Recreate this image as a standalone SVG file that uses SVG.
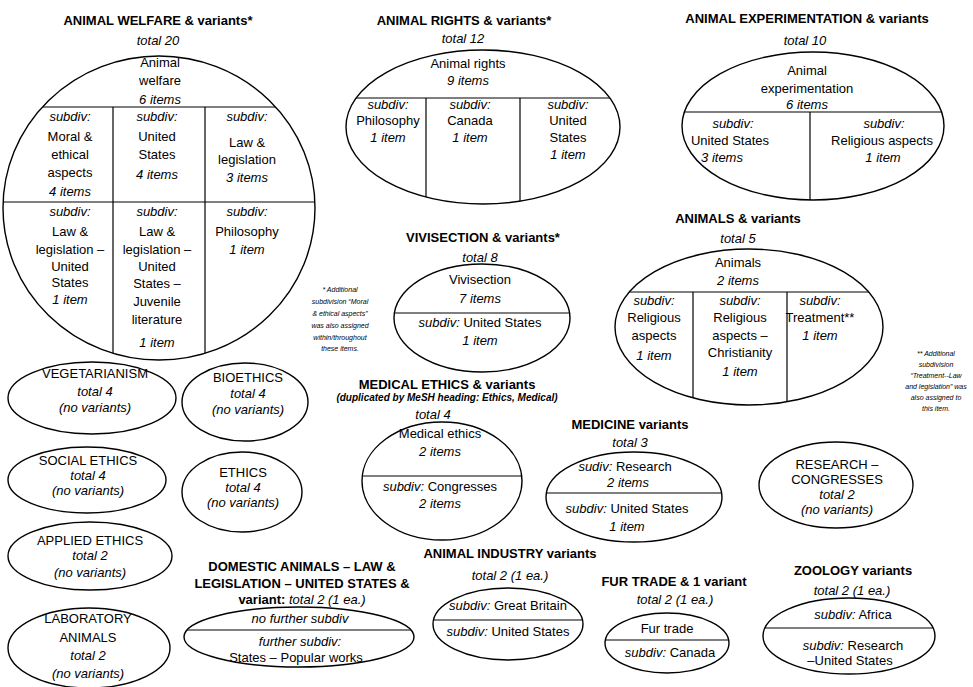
<svg xmlns="http://www.w3.org/2000/svg" width="973" height="687" viewBox="0 0 973 687">
<style>
text{font-family:"Liberation Sans",Arial,Helvetica,sans-serif;font-size:13px;text-anchor:middle;fill:#000}
.b{font-weight:bold}
.i{font-style:italic}
.fn{font-size:7px;font-style:italic}
.sub{font-size:10px;font-weight:bold;font-style:italic}
.o{fill:none;stroke:#000;stroke-width:1.4}
.d{stroke:#000;stroke-width:1.2}
</style>
<defs>
<clipPath id="cW"><ellipse cx="159" cy="208" rx="156" ry="152"/></clipPath>
<clipPath id="cR"><ellipse cx="483" cy="127" rx="137" ry="77"/></clipPath>
<clipPath id="cE"><ellipse cx="813" cy="126" rx="131" ry="74"/></clipPath>
<clipPath id="cV"><ellipse cx="482" cy="318" rx="88" ry="54"/></clipPath>
<clipPath id="cA"><ellipse cx="749" cy="327" rx="134" ry="78"/></clipPath>
<clipPath id="cM"><ellipse cx="442" cy="481" rx="80" ry="59"/></clipPath>
<clipPath id="cMd"><ellipse cx="634" cy="497" rx="88" ry="45"/></clipPath>
<clipPath id="cD"><ellipse cx="299" cy="637" rx="115" ry="30"/></clipPath>
<clipPath id="cI"><ellipse cx="508" cy="624" rx="75" ry="36"/></clipPath>
<clipPath id="cF"><ellipse cx="667" cy="643" rx="62" ry="30"/></clipPath>
<clipPath id="cZ"><ellipse cx="849" cy="636" rx="86" ry="38"/></clipPath>
</defs>
<rect width="973" height="687" fill="#fff"/>
<g id="connectors"/>

<g id="animal-welfare">
<text x="158" y="25" class="b">ANIMAL WELFARE &amp; variants*</text>
<text x="158" y="45" class="i">total 20</text>
<ellipse class="o" cx="159" cy="208" rx="156" ry="152"/>
<g clip-path="url(#cW)">
<line class="d" x1="0" y1="107" x2="330" y2="107"/>
<line class="d" x1="0" y1="202" x2="330" y2="202"/>
<line class="d" x1="113" y1="107" x2="113" y2="400"/>
<line class="d" x1="205" y1="107" x2="205" y2="400"/>
</g>
<text x="160" y="67">Animal</text>
<text x="160" y="85">welfare</text>
<text x="160" y="104" class="i">6 items</text>
<text x="70" y="121" class="i">subdiv:</text>
<text x="70" y="141">Moral &amp;</text>
<text x="70" y="159">ethical</text>
<text x="70" y="177">aspects</text>
<text x="70" y="196" class="i">4 items</text>
<text x="157" y="121" class="i">subdiv:</text>
<text x="157" y="141">United</text>
<text x="157" y="159">States</text>
<text x="157" y="179" class="i">4 items</text>
<text x="247" y="121" class="i">subdiv:</text>
<text x="247" y="147">Law &amp;</text>
<text x="247" y="164">legislation</text>
<text x="247" y="182" class="i">3 items</text>
<text x="70" y="216" class="i">subdiv:</text>
<text x="70" y="236">Law &amp;</text>
<text x="70" y="254">legislation –</text>
<text x="70" y="271">United</text>
<text x="70" y="287">States</text>
<text x="70" y="304" class="i">1 item</text>
<text x="157" y="216" class="i">subdiv:</text>
<text x="157" y="236">Law &amp;</text>
<text x="157" y="254">legislation –</text>
<text x="157" y="271">United</text>
<text x="157" y="288">States –</text>
<text x="157" y="306">Juvenile</text>
<text x="157" y="324">literature</text>
<text x="157" y="347" class="i">1 item</text>
<text x="247" y="216" class="i">subdiv:</text>
<text x="247" y="236">Philosophy</text>
<text x="247" y="254" class="i">1 item</text>
</g>

<g id="footnote-1">
<text x="340" y="292" class="fn">* Additional</text>
<text x="340" y="304" class="fn">subdivision “Moral</text>
<text x="340" y="316" class="fn">&amp; ethical aspects”</text>
<text x="340" y="328" class="fn">was also assigned</text>
<text x="340" y="340" class="fn">within/throughout</text>
<text x="340" y="351" class="fn">these items.</text>
</g>

<g id="animal-rights">
<text x="464" y="25" class="b">ANIMAL RIGHTS &amp; variants*</text>
<text x="463" y="43" class="i">total 12</text>
<ellipse class="o" cx="483" cy="127" rx="137" ry="77"/>
<g clip-path="url(#cR)">
<line class="d" x1="340" y1="98" x2="630" y2="98"/>
<line class="d" x1="426" y1="98" x2="426" y2="210"/>
<line class="d" x1="520" y1="98" x2="520" y2="210"/>
</g>
<text x="468" y="68">Animal rights</text>
<text x="468" y="85" class="i">9 items</text>
<text x="388" y="109" class="i">subdiv:</text>
<text x="388" y="125">Philosophy</text>
<text x="388" y="142" class="i">1 item</text>
<text x="470" y="109" class="i">subdiv:</text>
<text x="470" y="125">Canada</text>
<text x="470" y="142" class="i">1 item</text>
<text x="568" y="109" class="i">subdiv:</text>
<text x="568" y="125">United</text>
<text x="568" y="142">States</text>
<text x="568" y="159" class="i">1 item</text>
</g>

<g id="animal-experimentation">
<text x="807" y="23" class="b">ANIMAL EXPERIMENTATION &amp; variants</text>
<text x="805" y="45" class="i">total 10</text>
<ellipse class="o" cx="813" cy="126" rx="131" ry="74"/>
<g clip-path="url(#cE)">
<line class="d" x1="675" y1="112" x2="950" y2="112"/>
<line class="d" x1="810" y1="112" x2="810" y2="210"/>
</g>
<text x="807" y="75">Animal</text>
<text x="807" y="93">experimentation</text>
<text x="807" y="109" class="i">6 items</text>
<text x="733" y="128" class="i">subdiv:</text>
<text x="730" y="145">United States</text>
<text x="722" y="162" class="i">3 items</text>
<text x="884" y="128" class="i">subdiv:</text>
<text x="882" y="145">Religious aspects</text>
<text x="883" y="162" class="i">1 item</text>
</g>

<g id="vivisection">
<text x="483" y="242" class="b">VIVISECTION &amp; variants*</text>
<text x="480" y="262" class="i">total 8</text>
<ellipse class="o" cx="482" cy="318" rx="88" ry="54"/>
<g clip-path="url(#cV)">
<line class="d" x1="390" y1="313" x2="575" y2="313"/>
</g>
<text x="480" y="284">Vivisection</text>
<text x="480" y="303" class="i">7 items</text>
<text x="480" y="327"><tspan class="i">subdiv:</tspan> United States</text>
<text x="480" y="345" class="i">1 item</text>
</g>

<g id="animals">
<text x="738" y="223" class="b">ANIMALS &amp; variants</text>
<text x="738" y="243" class="i">total 5</text>
<ellipse class="o" cx="749" cy="327" rx="134" ry="78"/>
<g clip-path="url(#cA)">
<line class="d" x1="610" y1="292" x2="890" y2="292"/>
<line class="d" x1="693" y1="292" x2="693" y2="410"/>
<line class="d" x1="787" y1="292" x2="787" y2="410"/>
</g>
<text x="738" y="267">Animals</text>
<text x="738" y="285" class="i">2 items</text>
<text x="654" y="305" class="i">subdiv:</text>
<text x="654" y="322">Religious</text>
<text x="654" y="340">aspects</text>
<text x="654" y="360" class="i">1 item</text>
<text x="740" y="305" class="i">subdiv:</text>
<text x="740" y="322">Religious</text>
<text x="740" y="340">aspects –</text>
<text x="740" y="357">Christianity</text>
<text x="740" y="376" class="i">1 item</text>
<text x="820" y="305" class="i">subdiv:</text>
<text x="820" y="322">Treatment**</text>
<text x="820" y="340" class="i">1 item</text>
</g>

<g id="footnote-2">
<text x="936" y="356" class="fn">** Additional</text>
<text x="936" y="367" class="fn">subdivision</text>
<text x="936" y="378" class="fn">“Treatment--Law</text>
<text x="936" y="389" class="fn">and legislation” was</text>
<text x="936" y="400" class="fn">also assigned to</text>
<text x="936" y="411" class="fn">this item.</text>
</g>

<g id="vegetarianism">
<ellipse class="o" cx="92" cy="398" rx="84" ry="36"/>
<text x="95" y="378">VEGETARIANISM</text>
<text x="95" y="396" class="i">total 4</text>
<text x="95" y="412" class="i">(no variants)</text>
</g>

<g id="bioethics">
<ellipse class="o" cx="245" cy="402" rx="63" ry="39"/>
<text x="248" y="382">BIOETHICS</text>
<text x="248" y="398" class="i">total 4</text>
<text x="248" y="414" class="i">(no variants)</text>
</g>

<g id="social-ethics">
<ellipse class="o" cx="87" cy="480" rx="79" ry="33"/>
<text x="88" y="465">SOCIAL ETHICS</text>
<text x="88" y="480" class="i">total 4</text>
<text x="88" y="495" class="i">(no variants)</text>
</g>

<g id="ethics">
<ellipse class="o" cx="242" cy="492" rx="60" ry="40"/>
<text x="243" y="477">ETHICS</text>
<text x="243" y="492" class="i">total 4</text>
<text x="243" y="507" class="i">(no variants)</text>
</g>

<g id="applied-ethics">
<ellipse class="o" cx="90" cy="556" rx="82" ry="34"/>
<text x="90" y="545">APPLIED ETHICS</text>
<text x="90" y="560" class="i">total 2</text>
<text x="90" y="577" class="i">(no variants)</text>
</g>

<g id="laboratory-animals">
<ellipse class="o" cx="89" cy="648" rx="81" ry="40"/>
<text x="88" y="623">LABORATORY</text>
<text x="88" y="642">ANIMALS</text>
<text x="88" y="660" class="i">total 2</text>
<text x="88" y="678" class="i">(no variants)</text>
</g>

<g id="medical-ethics">
<text x="447" y="389" class="b">MEDICAL ETHICS &amp; variants</text>
<text x="447" y="401" class="sub">(duplicated by MeSH heading: Ethics, Medical)</text>
<text x="433" y="419" class="i">total 4</text>
<ellipse class="o" cx="442" cy="481" rx="80" ry="59"/>
<g clip-path="url(#cM)">
<line class="d" x1="355" y1="476" x2="530" y2="476"/>
</g>
<text x="440" y="438">Medical ethics</text>
<text x="440" y="456" class="i">2 items</text>
<text x="440" y="491"><tspan class="i">subdiv:</tspan> Congresses</text>
<text x="440" y="508" class="i">2 items</text>
</g>

<g id="medicine">
<text x="630" y="429" class="b">MEDICINE variants</text>
<text x="630" y="447" class="i">total 3</text>
<ellipse class="o" cx="634" cy="497" rx="88" ry="45"/>
<g clip-path="url(#cMd)">
<line class="d" x1="540" y1="493" x2="730" y2="493"/>
</g>
<text x="625" y="471"><tspan class="i">sudiv:</tspan> Research</text>
<text x="628" y="487" class="i">2 items</text>
<text x="627" y="513"><tspan class="i">subdiv:</tspan> United States</text>
<text x="627" y="531" class="i">1 item</text>
</g>

<g id="research-congresses">
<ellipse class="o" cx="836" cy="485" rx="77" ry="43"/>
<text x="837" y="469">RESEARCH –</text>
<text x="837" y="484">CONGRESSES</text>
<text x="837" y="499" class="i">total 2</text>
<text x="837" y="514" class="i">(no variants)</text>
</g>

<g id="domestic-animals">
<text x="302" y="571" class="b">DOMESTIC ANIMALS – LAW &amp;</text>
<text x="302" y="588" class="b">LEGISLATION – UNITED STATES &amp;</text>
<text x="302" y="604"><tspan class="b">variant:</tspan> <tspan class="i">total 2 (1 ea.)</tspan></text>
<ellipse class="o" cx="299" cy="637" rx="115" ry="30"/>
<g clip-path="url(#cD)">
<line class="d" x1="180" y1="630" x2="420" y2="630"/>
</g>
<text x="300" y="623" class="i">no further subdiv</text>
<text x="300" y="646" class="i">further subdiv:</text>
<text x="296" y="662">States – Popular works</text>
</g>

<g id="animal-industry">
<text x="510" y="558" class="b">ANIMAL INDUSTRY variants</text>
<text x="510" y="580" class="i">total 2 (1 ea.)</text>
<ellipse class="o" cx="508" cy="624" rx="75" ry="36"/>
<g clip-path="url(#cI)">
<line class="d" x1="425" y1="620" x2="590" y2="620"/>
</g>
<text x="508" y="610"><tspan class="i">subdiv:</tspan> Great Britain</text>
<text x="508" y="636"><tspan class="i">subdiv:</tspan> United States</text>
</g>

<g id="fur-trade">
<text x="674" y="586" class="b">FUR TRADE &amp; 1 variant</text>
<text x="675" y="604" class="i">total 2 (1 ea.)</text>
<ellipse class="o" cx="667" cy="643" rx="62" ry="30"/>
<g clip-path="url(#cF)">
<line class="d" x1="600" y1="640" x2="735" y2="640"/>
</g>
<text x="667" y="633">Fur trade</text>
<text x="670" y="657"><tspan class="i">subdiv:</tspan> Canada</text>
</g>

<g id="zoology">
<text x="853" y="575" class="b">ZOOLOGY variants</text>
<text x="852" y="595" class="i">total 2 (1 ea.)</text>
<ellipse class="o" cx="849" cy="636" rx="86" ry="38"/>
<g clip-path="url(#cZ)">
<line class="d" x1="755" y1="628" x2="945" y2="628"/>
</g>
<text x="853" y="619"><tspan class="i">subdiv:</tspan> Africa</text>
<text x="853" y="650"><tspan class="i">subdiv:</tspan> Research</text>
<text x="850" y="665">–United States</text>
</g>
</svg>
